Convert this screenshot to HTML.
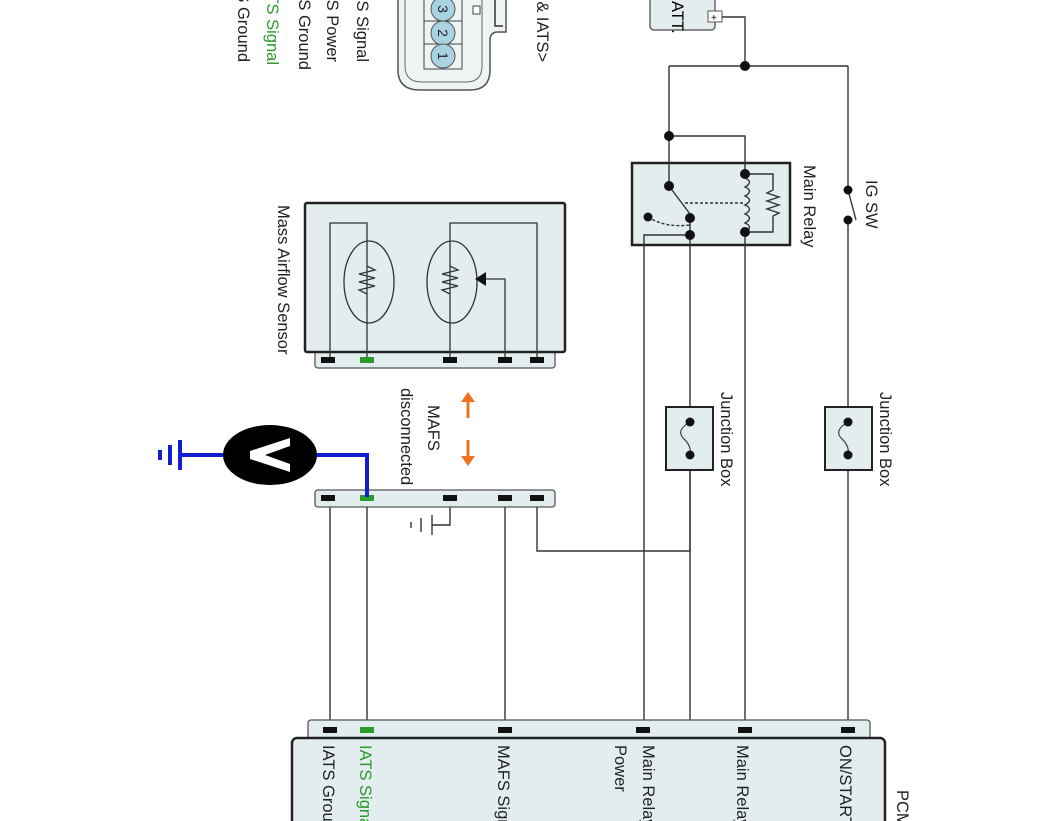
<!DOCTYPE html>
<html><head><meta charset="utf-8"><style>
html,body{margin:0;padding:0;background:#fff;}
svg{display:block;font-family:"Liberation Sans",sans-serif;}
</style></head><body>
<svg width="1062" height="821" viewBox="0 0 1062 821" xmlns="http://www.w3.org/2000/svg">
<g font-size="16.5" fill="#222">
<text transform="translate(238,62) rotate(90)" text-anchor="end">IATS Ground</text>
<text transform="translate(267,65) rotate(90)" text-anchor="end" fill="#2a9a2a">IATS Signal</text>
<text transform="translate(299,70) rotate(90)" text-anchor="end">MAFS Ground</text>
<text transform="translate(327,62) rotate(90)" text-anchor="end">MAFS Power</text>
<text transform="translate(357,62) rotate(90)" text-anchor="end">MAFS Signal</text>
<text transform="translate(537,62) rotate(90)" text-anchor="end">&lt;MAFS &amp; IATS&gt;</text>
</g>
<path d="M398,-10 L398,70 Q398,90 420,90 L470,90 Q490,90 490,70 L490,40 Q490,32 498,32 L506,32 L506,-10" fill="#eef3f4" stroke="#555" stroke-width="1.5"/>
<path d="M405,-10 L405,66 Q405,82 422,82 L466,82 Q482,82 482,66 L482,-10" fill="none" stroke="#666" stroke-width="1"/>
<path d="M495,-5 L495,26 L503,26" fill="none" stroke="#333" stroke-width="1.5"/>
<rect x="424" y="-5" width="38" height="74" fill="none" stroke="#444" stroke-width="1"/>
<line x1="424" y1="21" x2="462" y2="21" stroke="#444"/><line x1="424" y1="44" x2="462" y2="44" stroke="#444"/>
<g fill="#a9d3e0" stroke="#555" stroke-width="1">
<circle cx="443" cy="9" r="12"/><circle cx="443" cy="33" r="12"/><circle cx="443" cy="56" r="12"/></g>
<g font-size="14" fill="#222">
<text transform="translate(438,9) rotate(90)" text-anchor="middle">3</text>
<text transform="translate(438,33) rotate(90)" text-anchor="middle">2</text>
<text transform="translate(438,56) rotate(90)" text-anchor="middle">1</text></g>
<rect x="473" y="6" width="7" height="8" fill="#fff" stroke="#444"/>

<rect x="650" y="-10" width="65" height="40" rx="4" fill="#e3ecee" stroke="#666" stroke-width="1.5"/>
<text transform="translate(672,-10) rotate(90)" font-size="16.5">BATT.</text>
<rect x="708" y="11" width="14" height="11" fill="#fff" stroke="#555"/>
<text x="711" y="21" font-size="10">+</text>

<rect x="632" y="163" width="158" height="82" fill="#e3ecee" stroke="#222" stroke-width="2.5"/>

<g stroke="#333" stroke-width="1.4" fill="none">
<polyline points="722,17 745,17 745,66"/>
<line x1="669" y1="66" x2="848" y2="66"/>
<line x1="669" y1="66" x2="669" y2="186"/>
<polyline points="669,136 745,136 745,174"/>
<line x1="848" y1="66" x2="848" y2="190"/>
<line x1="848" y1="190" x2="856" y2="220"/>
<line x1="848" y1="220" x2="848" y2="725"/>
<line x1="669" y1="186" x2="690" y2="214"/>
<line x1="690" y1="218" x2="690" y2="725"/>
<polyline points="690,235 644,235 644,730"/>
<line x1="745" y1="232" x2="745" y2="725"/>
<path d="M745,178 q9,4 0,9 q9,4 0,9 q9,4 0,9 q9,4 0,9 q9,4 0,9 q9,4 0,9" />
<polyline points="745,174 773,174 773,190 767,193 779,197 767,201 779,205 767,209 779,213 773,216 773,232 745,232"/>
<line x1="685" y1="203" x2="745" y2="203" stroke-dasharray="3,2"/>
<path d="M648,217 Q665,228 690,225" stroke-dasharray="3,2"/>
<polyline points="690,470 690,551 537,551 537,497"/>
<line x1="330" y1="497" x2="330" y2="730"/>
<line x1="367" y1="497" x2="367" y2="730"/>
<line x1="505" y1="497" x2="505" y2="730"/>
<polyline points="450,497 450,525 432,525"/>
<line x1="432" y1="515" x2="432" y2="535"/><line x1="421" y1="518" x2="421" y2="532"/><line x1="411" y1="522" x2="411" y2="528"/>
</g>
<g fill="#111">
<circle cx="745" cy="66" r="5"/><circle cx="669" cy="136" r="5"/>
<circle cx="669" cy="186" r="5"/><circle cx="690" cy="218" r="5"/><circle cx="648" cy="217" r="4.5"/><circle cx="690" cy="235" r="5"/>
<circle cx="745" cy="174" r="5"/><circle cx="745" cy="232" r="5"/>
<circle cx="848" cy="190" r="4.5"/><circle cx="848" cy="220" r="4.5"/>
</g>
<g font-size="16.5" fill="#222">
<text transform="translate(804,165) rotate(90)">Main Relay</text>
<text transform="translate(866,180) rotate(90)">IG SW</text>
<text transform="translate(721,392) rotate(90)">Junction Box</text>
<text transform="translate(880,392) rotate(90)">Junction Box</text>
</g>
<g>
<rect x="666" y="407" width="47" height="63" fill="#e3ecee" stroke="#222" stroke-width="2"/>
<path d="M690,422 Q676,430 683,438 Q692,446 690,455" fill="none" stroke="#444" stroke-width="1.2"/>
<circle cx="690" cy="422" r="4.5" fill="#111"/><circle cx="690" cy="455" r="4.5" fill="#111"/>
<rect x="825" y="407" width="47" height="63" fill="#e3ecee" stroke="#222" stroke-width="2"/>
<path d="M848,422 Q834,430 841,438 Q850,446 848,455" fill="none" stroke="#444" stroke-width="1.2"/>
<circle cx="848" cy="422" r="4.5" fill="#111"/><circle cx="848" cy="455" r="4.5" fill="#111"/>
</g>

<rect x="315" y="350" width="240" height="18" rx="3" fill="#e3ecee" stroke="#555" stroke-width="1.3"/>
<rect x="305" y="203" width="260" height="149" rx="2" fill="#e3ecee" stroke="#222" stroke-width="2.5"/>
<g stroke="#333" stroke-width="1.3" fill="none">
<polyline points="330,360 330,223 367,223 367,360"/>
<polyline points="450,360 450,223 537,223 537,360"/>
<polyline points="505,360 505,279 486,279"/>
<ellipse cx="369" cy="282" rx="25" ry="41"/>
<ellipse cx="452" cy="282" rx="25" ry="41"/>
<polyline points="367,266 375,270 359,274 375,278 359,282 375,286 359,290 367,294"/>
<polyline points="450,266 458,270 442,274 458,278 442,282 458,286 442,290 450,294"/>
</g>
<polygon points="475,279 486,272 486,286" fill="#111"/>
<g>
<rect x="321" y="357" width="14" height="6" fill="#111"/><rect x="360" y="357" width="14" height="6" fill="#2a9a2a"/>
<rect x="443" y="357" width="14" height="6" fill="#111"/><rect x="498" y="357" width="14" height="6" fill="#111"/><rect x="530" y="357" width="14" height="6" fill="#111"/>
</g>
<text transform="translate(278,205) rotate(90)" font-size="16.5" fill="#222">Mass Airflow Sensor</text>

<g stroke="#f07020" stroke-width="3" fill="#f07020">
<line x1="468" y1="418" x2="468" y2="400"/><polygon points="461,402 475,402 468,392" stroke="none"/>
<line x1="468" y1="440" x2="468" y2="458"/><polygon points="461,456 475,456 468,466" stroke="none"/>
</g>
<text transform="translate(428,405) rotate(90)" font-size="16.5" fill="#222">MAFS</text>
<text transform="translate(401,388) rotate(90)" font-size="16.5" fill="#222">disconnected</text>

<rect x="315" y="490" width="240" height="17" rx="3" fill="#e3ecee" stroke="#555" stroke-width="1.3"/>
<rect x="321" y="495" width="14" height="6" fill="#111"/><rect x="360" y="495" width="14" height="6" fill="#2a9a2a"/>
<rect x="443" y="495" width="14" height="6" fill="#111"/><rect x="498" y="495" width="14" height="6" fill="#111"/><rect x="530" y="495" width="14" height="6" fill="#111"/>

<g stroke="#1020d0" stroke-width="4" fill="none">
<polyline points="315,455 367,455 367,497"/>
<line x1="225" y1="455" x2="180" y2="455"/>
<line x1="180" y1="440" x2="180" y2="470"/><line x1="170" y1="445" x2="170" y2="465"/><line x1="160" y1="450" x2="160" y2="460"/>
</g>
<ellipse cx="270" cy="455" rx="47" ry="30" fill="#000"/>
<polygon points="290,438 290,446 265,455 290,464 290,472 250,459 250,451" fill="#fff"/>

<rect x="308" y="720" width="562" height="20" rx="3" fill="#e3ecee" stroke="#555" stroke-width="1.3"/>
<rect x="292" y="738" width="593" height="100" rx="5" fill="#e3ecee" stroke="#222" stroke-width="2.5"/>
<g>
<rect x="323" y="727" width="14" height="6" fill="#111"/><rect x="360" y="727" width="14" height="6" fill="#2a9a2a"/>
<rect x="498" y="727" width="14" height="6" fill="#111"/><rect x="636" y="727" width="14" height="6" fill="#111"/>
<rect x="738" y="727" width="14" height="6" fill="#111"/><rect x="841" y="727" width="14" height="6" fill="#111"/>
</g>
<g font-size="16.5" fill="#222">
<text transform="translate(323,745) rotate(90)">IATS Ground</text>
<text transform="translate(360,745) rotate(90)" fill="#2a9a2a">IATS Signal</text>
<text transform="translate(498,745) rotate(90)">MAFS Signal</text>
<text transform="translate(643,745) rotate(90)">Main Relay</text>
<text transform="translate(615,745) rotate(90)">Power</text>
<text transform="translate(737,745) rotate(90)">Main Relay</text>
<text transform="translate(840,745) rotate(90)">ON/START</text>
<text transform="translate(897,790) rotate(90)">PCM</text>
</g>
</svg>
</body></html>
